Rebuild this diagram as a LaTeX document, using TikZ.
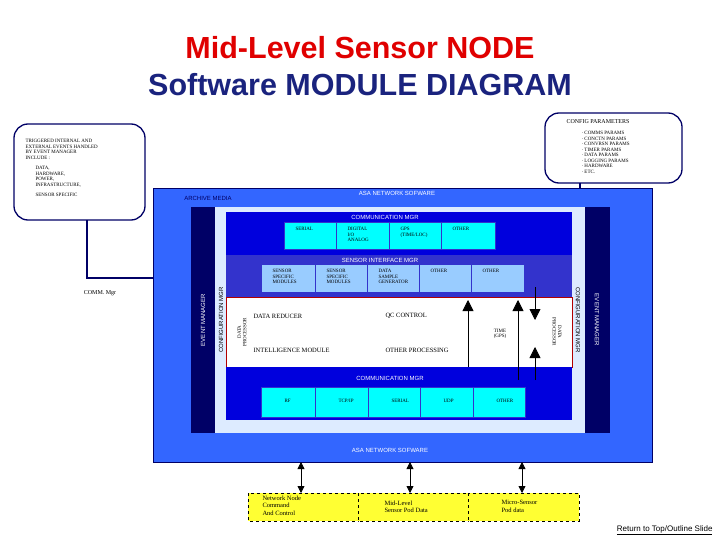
\documentclass[tikz,border=0pt]{standalone}
\usepackage{fontspec}
\setmainfont{Liberation Serif}
\newfontfamily\arial{Liberation Sans}
\usetikzlibrary{arrows.meta}
\definecolor{asablue}{HTML}{3366FF}
\definecolor{evnavy}{HTML}{000066}
\definecolor{cfglight}{HTML}{DDEBFF}
\definecolor{cmblue}{HTML}{0000DD}
\definecolor{sibblue}{HTML}{3333CC}
\definecolor{cyanbox}{HTML}{00FFFF}
\definecolor{ltbox}{HTML}{99CCFF}
\definecolor{titlered}{HTML}{E00000}
\definecolor{titlenavy}{HTML}{1A237E}
\definecolor{ylw}{HTML}{FFFF33}
\tikzset{
  tiny/.style={font=\fontsize{5}{5.5}\selectfont, align=left},
  cbox/.style={draw=sibblue, fill=cyanbox},
  lbox/.style={draw=sibblue, fill=ltbox},
  wlbl/.style={text=white, font=\arial\fontsize{6}{7}\selectfont},
  bigarrow/.style={-{Triangle[length=11pt,width=11pt]}, line width=0.8pt},
  callout/.style={draw=evnavy, line width=1.3pt, rounded corners=14pt, fill=white},
  ybox/.style={draw, dashed, fill=ylw},
}
\begin{document}
\begin{tikzpicture}[x=1pt,y=-1pt]
\useasboundingbox (0,0) rectangle (720,540);
\fill[white] (0,0) rectangle (720,540);
% title
\node (t1) at (360,48) {\arial\bfseries\fontsize{30.5}{32}\selectfont\color{titlered}Mid-Level Sensor NODE};
\node (t2) at (360,85) {\arial\bfseries\fontsize{30.5}{32}\selectfont\color{titlenavy}Software MODULE DIAGRAM};
% callout connectors
\coordinate (c1) at (87,278);
\draw[evnavy, line width=1.3pt] (87,220) -- (c1) -- (192,278);
\draw[evnavy, line width=1.3pt] (580,183) -- (580,207);
% callouts
\draw[callout] (14,124) rectangle (145,220);
\node[tiny, anchor=north west] (ev) at (22,136) {TRIGGERED INTERNAL AND\\EXTERNAL EVENTS HANDLED\\BY EVENT MANAGER\\INCLUDE :\\[5pt]
\hspace*{10pt}DATA,\\\hspace*{10pt}HARDWARE,\\\hspace*{10pt}POWER,\\\hspace*{10pt}INFRASTRUCTURE,\\[5pt]\hspace*{10pt}SENSOR SPECIFIC};
\draw[callout] (545,113) rectangle (682,183);
\node[tiny, anchor=north west] (cp) at (563,116) {\fontsize{6}{7}\selectfont CONFIG PARAMETERS};
\node[tiny, anchor=north west] (cpl) at (578,128) {· COMMS PARAMS\\· CONCTN PARAMS\\· CONVRSN PARAMS\\· TIMER PARAMS\\· DATA PARAMS\\· LOGGING PARAMS\\· HARDWARE\\· ETC.};
\node (cm) at (100,293) {\fontsize{6}{7}\selectfont COMM. Mgr};
% outer
\fill[asablue] (153,188) rectangle (652,462);
\draw[evnavy, line width=0.6pt] (153,188) rectangle (652,462);
\node[wlbl, text=evnavy] (arc) at (208,198) {ARCHIVE MEDIA};
\node[wlbl] (asa1) at (397,193) {ASA NETWORK SOFWARE};
\node[wlbl] (asa2) at (390,450) {ASA NETWORK SOFWARE};
% event manager / config
\fill[evnavy] (191,207) rectangle (610,433);
\fill[cfglight] (215,207) rectangle (585,433);
\node[wlbl, rotate=90] (em1) at (203,320) {EVENT MANAGER};
\node[wlbl, rotate=-90] (em2) at (597,320) {EVENT MANAGER};
\node[wlbl, text=black, rotate=90] (cf1) at (221,320) {CONFIGURATION MGR};
\node[wlbl, text=black, rotate=-90] (cf2) at (578,320) {CONFIGURATION MGR};
% comm mgr top
\fill[cmblue] (226,212) rectangle (572,255);
\node[wlbl] (cmt) at (385,217) {COMMUNICATION MGR};
\foreach \a/\b/\t [count=\i] in {284/336/SERIAL,336/389/{DIGITAL\\I/O\\ANALOG},389/441/{GPS\\(TIME/LOC)},441/495/OTHER}{
  \draw[cbox] (\a,222) rectangle (\b,249);
  \node[tiny, anchor=north west] (ct\i) at (\a+8,224) {\t};
}
% sensor interface
\fill[sibblue] (226,255) rectangle (572,297);
\node[wlbl] (sit) at (380,260) {SENSOR INTERFACE MGR};
\foreach \a/\b/\t [count=\i] in {261/315/{SENSOR\\SPECIFIC\\MODULES},315/367/{SENSOR\\SPECIFIC\\MODULES},367/419/{DATA\\SAMPLE\\GENERATOR},419/471/OTHER,471/524/OTHER}{
  \draw[lbox] (\a,264) rectangle (\b,292);
  \node[tiny, anchor=north west] (si\i) at (\a+8,266) {\t};
}
% data processor
\draw[fill=white, draw=red!70!black, line width=0.8pt] (226,297) rectangle (572,367);
\node[tiny, rotate=90, align=center] (dp1) at (242,332) {DATA\\PROCESSOR};
\node[tiny, rotate=-90, align=center] (dp2) at (557,332) {DATA\\PROCESSOR};
\node[anchor=west, font=\fontsize{6.5}{7}\selectfont] (dr) at (250,316) {DATA REDUCER};
\node[anchor=west, font=\fontsize{6.5}{7}\selectfont] (qc) at (382,316) {QC CONTROL};
\node[anchor=west, font=\fontsize{6.5}{7}\selectfont] (im) at (250,350) {INTELLIGENCE MODULE};
\node[anchor=west, font=\fontsize{6.5}{7}\selectfont] (op) at (382,350) {OTHER PROCESSING};
\node[tiny, align=center] (tm) at (500,334) {TIME\\(GPS)};
% comm mgr bottom
\fill[cmblue] (226,367) rectangle (572,420);
\node[wlbl] (cmb) at (390,378) {COMMUNICATION MGR};
\foreach \a/\b/\t [count=\i] in {261/315/RF,315/368/{TCP/IP},368/420/SERIAL,420/473/UDP,473/525/OTHER}{
  \draw[cbox] (\a,387) rectangle (\b,417);
  \node[tiny, anchor=west] (cb\i) at (\a+20,401) {\t};
}
% arrows
\coordinate (a1s) at (468,367); \coordinate (a1e) at (468,300);
\coordinate (a2s) at (518,380); \coordinate (a2e) at (518,300);
\coordinate (a3s) at (535,287); \coordinate (a3e) at (535,320);
\coordinate (a4s) at (535,380); \coordinate (a4e) at (535,347);
\draw[bigarrow] (a1s) -- (a1e);
\draw[bigarrow] (a2s) -- (a2e);
\draw[bigarrow] (a3s) -- (a3e);
\draw[bigarrow] (a4s) -- (a4e);
% yellow boxes
\draw[ybox] (248,493) rectangle (358,521);
\draw[ybox] (358,493) rectangle (468,521);
\draw[ybox] (468,493) rectangle (579,521);
\node[anchor=north west, font=\fontsize{6.5}{7.5}\selectfont, align=left] (y1) at (259,492) {Network Node\\Command\\And Control};
\node[anchor=north west, font=\fontsize{6.5}{7.5}\selectfont, align=left] (y2) at (381,497) {Mid-Level\\Sensor Pod Data};
\node[anchor=north west, font=\fontsize{6.5}{7.5}\selectfont, align=left] (y3) at (498,497) {Micro-Sensor\\Pod data};
\foreach \x in {301,410,522}{
  \draw[{Triangle[length=7pt,width=7pt]}-{Triangle[length=7pt,width=7pt]}, line width=0.8pt] (\x,462) -- (\x,493);
}
\node[anchor=east, font=\arial\fontsize{8}{9}\selectfont] (ret) at (716,530) {\underline{Return to Top/Outline Slide}};
\end{tikzpicture}
\end{document}
